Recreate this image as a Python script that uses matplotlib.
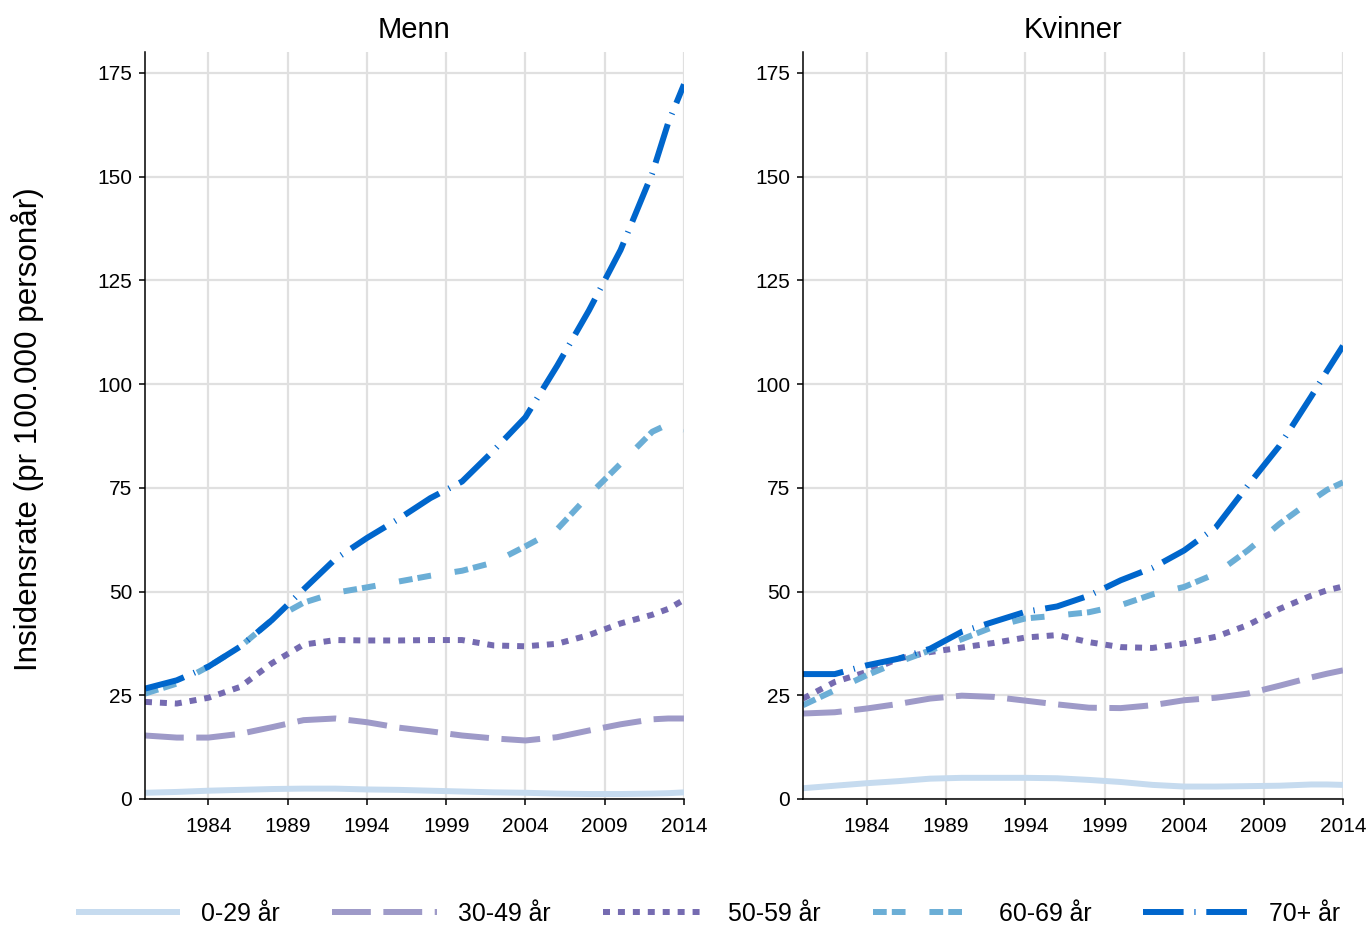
import matplotlib
matplotlib.use("Agg")
import matplotlib.pyplot as plt
from matplotlib.lines import Line2D

plt.rcParams['font.family'] = ['Liberation Sans', 'DejaVu Sans']

years = [1980, 1982, 1984, 1986, 1988, 1990, 1992, 1994, 1996, 1998,
         2000, 2002, 2004, 2006, 2008, 2010, 2012, 2013, 2014]

groups = ["0-29 år", "30-49 år", "50-59 år", "60-69 år", "70+ år"]
panels = ["Menn", "Kvinner"]

menn_0_29 = [1.5, 1.7, 2.0, 2.2, 2.4, 2.5, 2.5, 2.3, 2.2, 2.0, 1.8, 1.6, 1.5, 1.3, 1.2, 1.2, 1.3, 1.4, 1.6]
menn_30_49 = [15.3, 14.8, 14.8, 15.7, 17.3, 19.0, 19.4, 18.5, 17.2, 16.3, 15.3, 14.6, 14.1, 14.9, 16.5, 18.0, 19.2, 19.4, 19.4]
menn_50_59 = [23.4, 23.0, 24.4, 27.0, 32.7, 37.2, 38.3, 38.2, 38.2, 38.3, 38.3, 37.0, 36.8, 37.4, 39.5, 42.3, 44.4, 45.8, 48.0]
menn_60_69 = [25.4, 27.8, 31.9, 36.7, 43.1, 47.3, 49.7, 51.0, 52.4, 53.8, 55.0, 57.0, 60.9, 65.0, 73.2, 80.8, 88.5, 90.3, 89.0]
menn_70 = [26.6, 28.6, 31.9, 36.7, 43.1, 50.5, 57.8, 62.9, 67.5, 72.5, 76.5, 84.0, 92.0, 104.4, 117.7, 132.3, 150.8, 162.9, 172.2]

kvinner_0_29 = [2.6, 3.2, 3.8, 4.3, 4.9, 5.1, 5.1, 5.1, 5.0, 4.6, 4.1, 3.4, 3.0, 3.0, 3.1, 3.2, 3.5, 3.5, 3.4]
kvinner_30_49 = [20.6, 20.9, 21.8, 22.9, 24.2, 24.9, 24.6, 23.7, 22.8, 22.0, 21.9, 22.6, 23.8, 24.4, 25.4, 27.3, 29.3, 30.2, 31.0]
kvinner_50_59 = [24.2, 28.2, 30.6, 33.8, 35.4, 36.5, 37.6, 38.9, 39.5, 37.8, 36.6, 36.4, 37.5, 39.1, 41.9, 45.8, 49.0, 50.3, 51.2]
kvinner_60_69 = [22.6, 26.2, 29.8, 33.0, 35.8, 38.5, 41.5, 43.5, 44.2, 45.0, 46.7, 49.3, 51.1, 54.3, 59.9, 66.3, 71.9, 74.5, 76.3]
kvinner_70 = [30.1, 30.1, 32.2, 33.8, 36.2, 40.3, 42.7, 45.1, 46.4, 49.0, 52.7, 55.7, 59.9, 65.5, 75.5, 85.1, 97.0, 103.2, 109.2]

x_ticks = [1984, 1989, 1994, 1999, 2004, 2009, 2014]
y_ticks = [0, 25, 50, 75, 100, 125, 150, 175]

data = {
    "Menn": [menn_0_29, menn_30_49, menn_50_59, menn_60_69, menn_70],
    "Kvinner": [kvinner_0_29, kvinner_30_49, kvinner_50_59, kvinner_60_69, kvinner_70],
}

colors = ["#c6dbef", "#9e9ac8", "#756bb1", "#6baed6", "#0066cc"]
LW = 4.3
dashes = [
    None,
    (6.5, 2.1),
    (1.17, 1.33),
    (2.3, 0.85, 2.3, 4.0),
    (6.8, 1.8, 0.2, 1.8),
]

fig = plt.figure(figsize=(13.7, 9.27), dpi=100)
W, H = 1370, 927
ax_l = fig.add_axes([145 / W, (H - 799) / H, 539 / W, 747 / H])
ax_r = fig.add_axes([803 / W, (H - 799) / H, 540 / W, 747 / H])

def style_line(line, d):
    if d is None:
        line.set_linestyle('-')
        line.set_solid_capstyle('butt')
    else:
        line.set_dashes(d)
        line.set_dash_capstyle('butt')

for ax, panel in zip([ax_l, ax_r], panels):
    for i, (series, col) in enumerate(zip(data[panel], colors)):
        ln, = ax.plot(years, series, color=col, lw=LW, zorder=3 + i)
        style_line(ln, dashes[i])
    ax.set_xlim(1980, 2014)
    ax.set_ylim(0, 180)
    ax.set_xticks(x_ticks)
    ax.set_yticks(y_ticks)
    ax.grid(True, color="#e0e0e0", lw=1.6, zorder=0)
    ax.set_axisbelow(True)
    for s in ['top', 'right']:
        ax.spines[s].set_visible(False)
    for s in ['left', 'bottom']:
        ax.spines[s].set_color('black')
        ax.spines[s].set_linewidth(1.1)
        ax.spines[s].set_zorder(10)
    ax.tick_params(direction='out', length=4.3, width=1.1, colors='black',
                   labelsize=15, pad=5)
    ax.tick_params(axis='x', pad=9)
    ax.set_title(panel, fontsize=21, pad=10)

fig.text(28 / W, 1 - 429 / H, "Insidensrate (pr 100.000 personår)",
         rotation=90, ha='center', va='center', fontsize=22.6)

handles = []
for i, col in enumerate(colors):
    h = Line2D([0], [0], color=col, lw=LW)
    style_line(h, dashes[i])
    handles.append(h)

fig.legend(handles, groups, loc='center', bbox_to_anchor=(708 / W, 1 - 914 / H),
           ncol=5, frameon=False, fontsize=17.9, handlelength=4.2,
           handletextpad=0.85, columnspacing=2.1, borderpad=0.0)

fig.savefig("out.png", dpi=100)
